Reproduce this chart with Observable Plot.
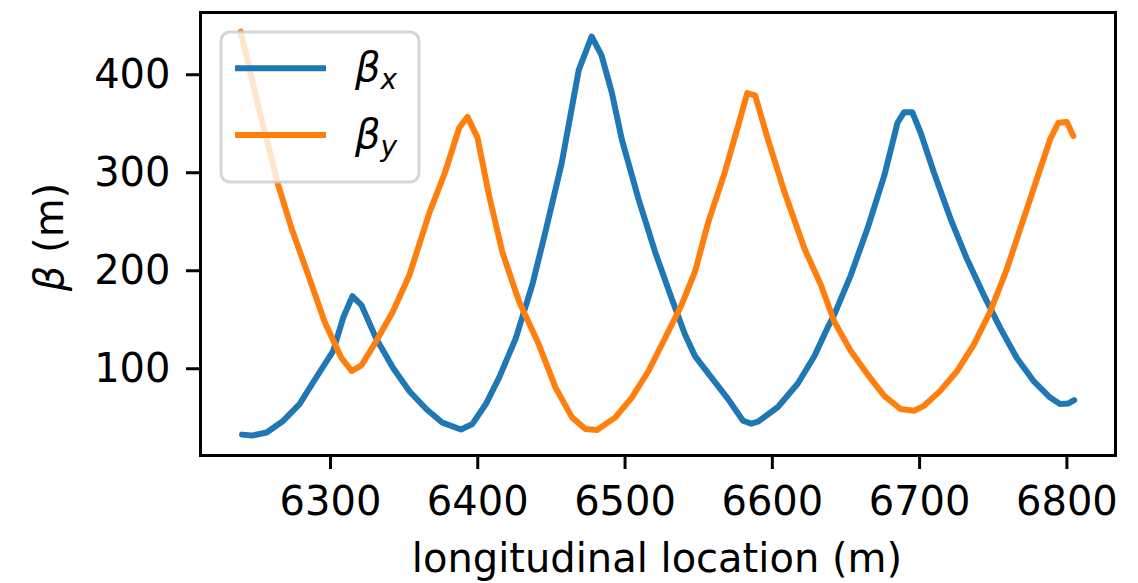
<!DOCTYPE html>
<html>
<head>
<meta charset="utf-8">
<script src="https://cdn.jsdelivr.net/npm/d3@7"></script>
<script src="https://cdn.jsdelivr.net/npm/@observablehq/plot@0.6"></script>
<style>
  html, body { margin: 0; padding: 0; background: white; }
  #wrap { position: relative; width: 1138px; height: 583px; font-family: "DejaVu Sans", sans-serif; }
  #overlay { position: absolute; left: 0; top: 0; pointer-events: none; }
</style>
</head>
<body>
<div id="wrap"></div>
<script>
// beta_x series
const sX = [6240, 6246.6, 6256.7, 6268, 6279, 6289, 6301.8, 6308.6, 6314.9, 6321, 6331, 6342.4, 6353.6, 6365, 6376, 6388.6, 6396.4, 6405.5, 6414.5, 6425.8, 6437, 6446, 6457, 6468.6, 6477.3, 6484, 6491, 6497.8, 6509.1, 6520.4, 6531.6, 6540.7, 6547.5, 6558.7, 6570, 6580.1, 6585.7, 6590.3, 6603.8, 6617.3, 6628.6, 6637.4, 6642, 6653.3, 6664.6, 6676, 6685, 6689.5, 6695, 6700.7, 6709.7, 6721, 6732, 6743.5, 6754.8, 6766, 6777.4, 6788.6, 6795.3, 6801, 6805];
const betaX = [32.8, 31.8, 35, 47, 64, 88, 118, 152, 174, 165, 131, 101, 77, 59, 45, 38, 43.7, 64, 91, 131, 185.5, 240, 310, 405, 439, 420, 382, 334, 273.3, 219.2, 172, 134.9, 112.9, 90.9, 69, 47, 44, 46, 61, 85, 113, 141.5, 155, 195.6, 243, 297, 351, 361.8, 361.8, 340.8, 300.3, 253, 212.5, 175.4, 141.5, 111, 87.5, 70.6, 64, 64.6, 68];
// beta_y series
const sY = [6239, 6251, 6264.6, 6273.6, 6284.9, 6296, 6307.4, 6314.5, 6321, 6331, 6342.4, 6353.6, 6367.3, 6377.7, 6387.4, 6393, 6399.8, 6407.7, 6416.7, 6428, 6441.5, 6452.8, 6464, 6473.1, 6481, 6493.4, 6504.6, 6515.9, 6527.2, 6538.4, 6547.5, 6556.5, 6567.7, 6576.7, 6583, 6588.4, 6597, 6608.3, 6621.8, 6633, 6642, 6653.3, 6664.6, 6676, 6687, 6696.2, 6703, 6714, 6725.5, 6736.8, 6748, 6759.3, 6770.6, 6781.8, 6788.6, 6794.2, 6800, 6804.4];
const betaY = [444, 368, 287, 243, 195.6, 148, 111, 97.7, 103.5, 128, 158.5, 195.6, 259.8, 300, 345.9, 357, 335.8, 276.7, 219, 168.6, 124.7, 80.8, 50.4, 38.6, 37.6, 50.4, 70.6, 97.7, 131.4, 165.2, 199, 249.6, 300.3, 347.6, 381.4, 378.6, 334, 280, 222.6, 185.5, 148.3, 118, 94.3, 72.3, 58.9, 57.1, 62.2, 77.4, 97.7, 124.7, 158.5, 202, 253, 303.6, 334, 351, 351.7, 337.5];

const xTicks = [6300, 6400, 6500, 6600, 6700, 6800];
const yTicks = [100, 200, 300, 400];

const dataX = sX.map((s, i) => ({s, b: betaX[i]}));
const dataY = sY.map((s, i) => ({s, b: betaY[i]}));

const W = 1138, H = 583;
const chart = Plot.plot({
  width: W, height: H,
  marginLeft: 200, marginRight: 23, marginTop: 12, marginBottom: 128,
  style: {fontFamily: "DejaVu Sans", fontSize: "40px", color: "black", background: "white", overflow: "visible"},
  x: {domain: [6211.75, 6833]},
  y: {domain: [11.5, 463.5]},
  marks: [
    Plot.line(dataX, {x: "s", y: "b", stroke: "#1f77b4", strokeWidth: 6}),
    Plot.line(dataY, {x: "s", y: "b", stroke: "#ff7f0e", strokeWidth: 6}),
    Plot.frame({stroke: "black", strokeWidth: 3}),
    Plot.axisX({ticks: xTicks, tickFormat: d => String(d), tickSize: 14, tickPadding: 17, strokeWidth: 3, label: null, fontSize: 40}),
    Plot.axisY({ticks: yTicks, tickFormat: d => String(d), tickSize: 14, tickPadding: 16, strokeWidth: 3, label: null, fontSize: 40})
  ]
});
const wrap = document.getElementById("wrap");
wrap.appendChild(chart);

// Overlay: axis labels and legend
const ns = "http://www.w3.org/2000/svg";
const ov = document.createElementNS(ns, "svg");
ov.setAttribute("id", "overlay");
ov.setAttribute("width", W);
ov.setAttribute("height", H);
ov.setAttribute("font-family", "DejaVu Sans");
ov.innerHTML = `
  <text x="657" y="572" font-size="40" text-anchor="middle" fill="black">longitudinal location (m)</text>
  <text transform="translate(63,237) rotate(-90)" font-size="40" text-anchor="middle" fill="black"><tspan font-style="italic">β</tspan> (m)</text>
  <rect x="221" y="32" width="198" height="150" rx="9" ry="9" fill="white" fill-opacity="0.8" stroke="#cccccc" stroke-opacity="0.8" stroke-width="3"/>
  <line x1="235" x2="326" y1="68.3" y2="68.3" stroke="#1f77b4" stroke-width="6"/>
  <line x1="235" x2="326" y1="135" y2="135" stroke="#ff7f0e" stroke-width="6"/>
  <text x="355" y="81" font-size="40" fill="black" font-style="italic">β<tspan font-size="28" dy="8">x</tspan></text>
  <text x="355" y="148" font-size="40" fill="black" font-style="italic">β<tspan font-size="28" dy="8">y</tspan></text>
`;
wrap.appendChild(ov);
</script>
</body>
</html>
